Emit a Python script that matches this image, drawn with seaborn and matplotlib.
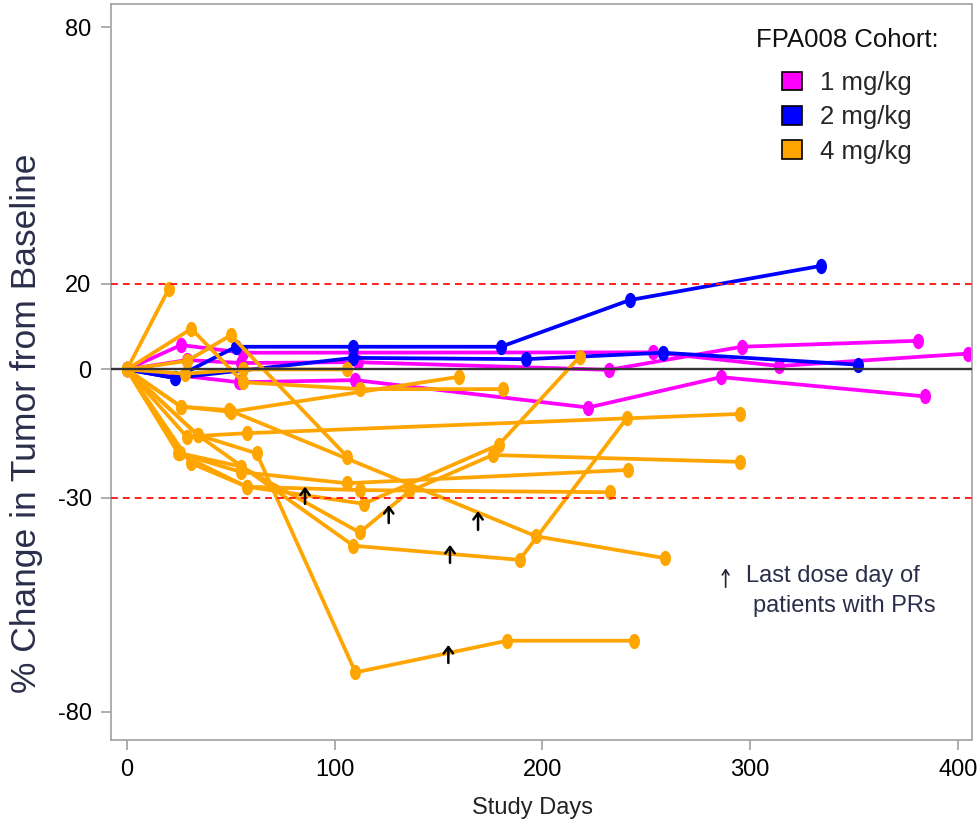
import matplotlib
matplotlib.use("Agg")
import matplotlib.pyplot as plt
import seaborn as sns
import pandas as pd
from matplotlib.markers import MarkerStyle
from matplotlib.transforms import Affine2D
from matplotlib.patches import Patch

# ---------------- data ----------------
cohorts = ["1 mg/kg", "2 mg/kg", "4 mg/kg"]
cohort_colors = ["#FF00FF", "#0000FF", "#FFA500"]

# 1 mg/kg patients
m1_days = [0, 54, 110, 222, 286, 384]
m1_pct = [0, -3, -2.5, -8.9, -1.8, -6.3]
m2_days = [0, 29, 55, 111, 232, 296, 381]
m2_pct = [0, 2.2, 1.5, 1.7, -0.1, 5.3, 6.7]
m3_days = [0, 26, 56, 253, 314, 405]
m3_pct = [0, 5.7, 3.9, 4.0, 0.8, 3.7]

# 2 mg/kg patients
b1_days = [0, 23, 52.5, 109, 180, 242, 334]
b1_pct = [0, -2, 5.3, 5.3, 5.3, 16.2, 24.2]
b2_days = [0, 23, 109, 192, 258, 352]
b2_pct = [0, -2, 2.7, 2.4, 3.9, 1.1]

# 4 mg/kg patients
o1_days = [0, 20]
o1_pct = [0, 18.7]
o2_days = [0, 29, 50, 106]
o2_pct = [0, 2, 8, -20.4]
o3_days = [0, 31, 56, 112, 181]
o3_pct = [0, 9.5, -3, -4.6, -4.6]
o4_days = [0, 28, 56, 106]
o4_pct = [0, -1, 0, 0]
o5_days = [0, 26, 50, 160]
o5_pct = [0, -8.7, -9.9, -1.7]
o6_days = [0, 28.7, 57.6, 295]
o6_pct = [0, -15.7, -14.9, -10.4]
o7_days = [0, 34, 109, 189, 240.6]
o7_pct = [0, -15.3, -41.2, -44.5, -11.4]
o8_days = [0, 34, 62.4, 110, 183, 244]
o8_pct = [0, -15.3, -19.6, -70.8, -63.4, -63.4]
o9_days = [0, 25.5, 55, 112, 136, 176, 295]
o9_pct = [0, -19.6, -22.7, -38.1, -28.5, -20, -21.6]
o10_days = [0, 30.7, 57.6, 112, 232.5]
o10_pct = [0, -21.9, -27.4, -28.2, -28.7]
o11_days = [0, 25, 55, 105.8, 241]
o11_pct = [0, -19.6, -24, -26.6, -23.5]
o12_days = [0, 24.7, 57.6, 114, 179, 218]
o12_pct = [0, -19.6, -27.4, -31.4, -17.6, 3]
o13_days = [0, 26, 49, 197, 259]
o13_pct = [0, -8.7, -9.5, -39, -44.1]

# last dose day of patients with PRs (day, arrow bottom, arrow tip)
arrow_days = [85.7, 126, 169, 155.5, 154.7]
arrow_low = [-31.4, -35.9, -37.5, -45.2, -68.6]
arrow_high = [-27.4, -31.7, -33.1, -41.0, -64.4]

ref_levels = [20, -30]
x_ticks = [0, 100, 200, 300, 400]
y_ticks = [-80, -30, 0, 20, 80]
y_tick_labels = ["-80", "-30", "0", "20", "80"]

patients = [
    ("1 mg/kg", m1_days, m1_pct), ("1 mg/kg", m2_days, m2_pct), ("1 mg/kg", m3_days, m3_pct),
    ("2 mg/kg", b1_days, b1_pct), ("2 mg/kg", b2_days, b2_pct),
    ("4 mg/kg", o1_days, o1_pct), ("4 mg/kg", o2_days, o2_pct), ("4 mg/kg", o3_days, o3_pct),
    ("4 mg/kg", o4_days, o4_pct), ("4 mg/kg", o5_days, o5_pct), ("4 mg/kg", o6_days, o6_pct),
    ("4 mg/kg", o7_days, o7_pct), ("4 mg/kg", o8_days, o8_pct), ("4 mg/kg", o9_days, o9_pct),
    ("4 mg/kg", o10_days, o10_pct), ("4 mg/kg", o11_days, o11_pct), ("4 mg/kg", o12_days, o12_pct),
    ("4 mg/kg", o13_days, o13_pct),
]

rows = []
for pid, (coh, ds, ps) in enumerate(patients):
    for d, p in zip(ds, ps):
        rows.append({"patient": pid, "cohort": coh, "day": d, "pct": p})
df = pd.DataFrame(rows)

# ---------------- plot ----------------
sns.set_theme(style="white")
plt.rcParams["font.family"] = ["Liberation Sans", "DejaVu Sans"]

fig = plt.figure(figsize=(9.78, 8.23), dpi=100)
ax = fig.add_axes([111 / 978, 1 - 740 / 823, (972 - 111) / 978, (740 - 4) / 823])

ellipse = MarkerStyle("o", transform=Affine2D().scale(0.72, 1.0))
sns.lineplot(data=df, x="day", y="pct", hue="cohort", hue_order=cohorts,
             palette=dict(zip(cohorts, cohort_colors)), units="patient",
             estimator=None, sort=False, lw=2.7, marker=ellipse, markersize=11,
             markeredgewidth=0, legend=False, ax=ax)

ax.axhline(0, color="#333333", lw=1.7, zorder=6)
for lv in ref_levels:
    ax.axhline(lv, color="#FF2020", lw=1.4, ls=(0, (3.5, 2.6)), zorder=6)

for d, lo, hi in zip(arrow_days, arrow_low, arrow_high):
    ax.annotate("", xy=(d, hi), xytext=(d, lo),
                arrowprops=dict(arrowstyle="->,head_width=0.28,head_length=0.38",
                                color="black", lw=1.8, shrinkA=0, shrinkB=0), zorder=7)

# note
ax.annotate("", xy=(288.2, -46.5), xytext=(288.2, -50.9),
            arrowprops=dict(arrowstyle="->,head_width=0.2,head_length=0.3",
                            color="#222233", lw=1.2, shrinkA=0, shrinkB=0))
ax.text(298, -48.2, "Last dose day of", fontsize=17, color="#2a2e4a", va="center", ha="left")
ax.text(301.3, -55.4, "patients with PRs", fontsize=17, color="#2a2e4a", va="center", ha="left")

ax.set_xlim(-7.7, 406.8)
ax.set_ylim(-86.6, 85.4)
ax.set_xticks(x_ticks)
ax.set_yticks(y_ticks)
ax.set_yticklabels(y_tick_labels)
ax.tick_params(axis="both", which="major", direction="out", length=7, width=1.2,
               color="#A0A0A0", labelsize=17, labelcolor="black", pad=7,
               bottom=True, left=True)
for sp in ax.spines.values():
    sp.set_color("#A8A8A8")
    sp.set_linewidth(1.3)

ax.set_xlabel("Study Days", fontsize=17, color="#222222")
ax.set_ylabel("% Change in Tumor from Baseline", fontsize=25.5, color="#2a2e4a")
ax.xaxis.set_label_coords(0.49, -0.078)
ax.yaxis.set_label_coords(-0.079, 0.431)

fig.text(847 / 978, 1 - 40 / 823, "FPA008 Cohort:", fontsize=18.5, color="#111111",
         ha="center", va="center")
handles = [Patch(facecolor=c, edgecolor="black", lw=1.2) for c in cohort_colors]
leg = ax.legend(handles, cohorts, frameon=False,
                loc="upper center", bbox_to_anchor=(847 / 978, 1 - 71 / 823),
                bbox_transform=fig.transFigure, fontsize=18.5,
                handlelength=0.75, handleheight=0.75, handletextpad=0.7,
                labelspacing=0.4, borderpad=0, borderaxespad=0)

fig.savefig("out.png", dpi=100)
